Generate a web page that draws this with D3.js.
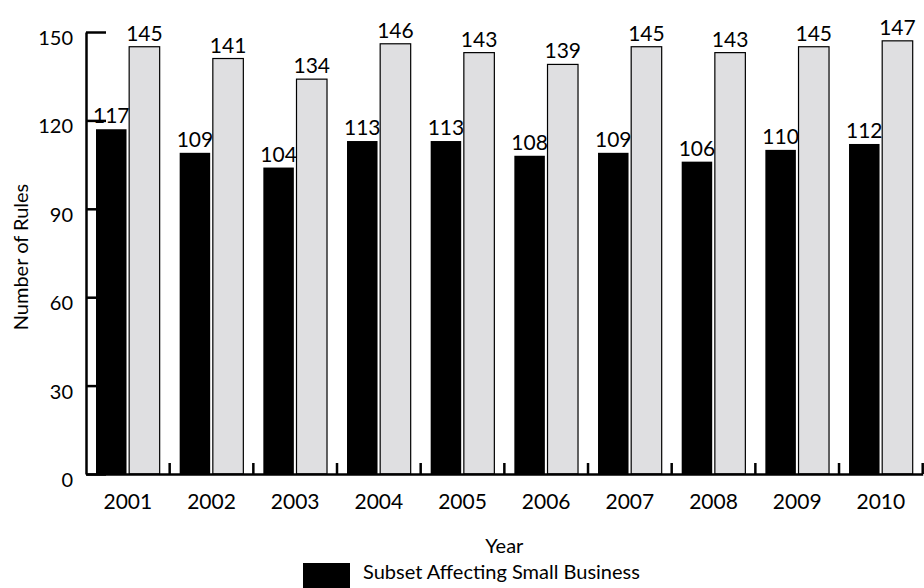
<!DOCTYPE html>
<html>
<head>
<meta charset="utf-8">
<script src="https://cdn.jsdelivr.net/npm/d3@7"></script>
<style>
  body { margin: 0; background: #fff; }
  svg text { font-family: Lato, "Open Sans", sans-serif; fill: #000; }
</style>
</head>
<body>
<svg id="chart" width="924" height="588"></svg>
<script>
// data
const years = ["2001", "2002", "2003", "2004", "2005", "2006", "2007", "2008", "2009", "2010"];
const smallBiz = [117, 109, 104, 113, 113, 108, 109, 106, 110, 112];
const allRules = [145, 141, 134, 146, 143, 139, 145, 143, 145, 147];
const yTicks = [0, 30, 60, 90, 120, 150];
const legendNames = ["Subset Affecting Small Business"];

const rows = years.map((y, i) => ({year: y, vals: [smallBiz[i], allRules[i]]}));

const svg = d3.select("#chart");
const plotL = 86, plotR = 922.7, plotT = 32, plotB = 474;

const x0 = d3.scaleBand().domain(years).range([plotL, plotR]).padding(0);
const x1 = d3.scaleBand().domain([0, 1])
  .range([10, x0.bandwidth() - 10]).paddingInner(0.08);
const y = d3.scaleLinear().domain([0, 150]).range([plotB, plotT]);

// y axis (ticks point inward)
const yAxis = svg.append("g")
  .attr("transform", `translate(${plotL},0)`)
  .call(d3.axisLeft(y).tickValues(yTicks).tickSizeInner(-20).tickSizeOuter(0).tickPadding(13));
yAxis.select(".domain").attr("stroke-width", 2.5);
yAxis.selectAll(".tick line").attr("stroke-width", 2.5);
yAxis.selectAll(".tick text")
  .style("font-size", "20px")
  .attr("dy", "0.62em");

// bars
const groups = svg.selectAll("g.year")
  .data(rows)
  .enter().append("g")
    .attr("class", "year")
    .attr("transform", d => `translate(${x0(d.year)},0)`);

groups.selectAll("rect")
  .data(d => d.vals.map((v, i) => ({i, v})))
  .enter().append("rect")
    .attr("x", d => x1(d.i))
    .attr("y", d => y(d.v))
    .attr("width", x1.bandwidth())
    .attr("height", d => plotB - y(d.v))
    .attr("fill", d => d.i === 0 ? "#000" : "#dfdfe1")
    .attr("stroke", d => d.i === 0 ? "none" : "#000")
    .attr("stroke-width", 1.2);

groups.selectAll("text.value")
  .data(d => d.vals.map((v, i) => ({i, v})))
  .enter().append("text")
    .attr("class", "value")
    .attr("x", d => x1(d.i) + x1.bandwidth() / 2)
    .attr("y", d => y(d.v) - 6)
    .attr("text-anchor", "middle")
    .style("font-size", "21px")
    .text(d => d.v);

// x axis
const xAxis = svg.append("g")
  .attr("transform", `translate(0,${plotB})`)
  .call(d3.axisBottom(x0).tickSize(0).tickPadding(20));
xAxis.select(".domain").attr("stroke-width", 2.5);
xAxis.selectAll(".tick text").style("font-size", "21px");

// separators between year groups
svg.append("g").selectAll("line")
  .data(years)
  .enter().append("line")
    .attr("x1", d => x0(d) + x0.bandwidth())
    .attr("x2", d => x0(d) + x0.bandwidth())
    .attr("y1", plotB)
    .attr("y2", plotB - 11)
    .attr("stroke", "#000")
    .attr("stroke-width", 2.5);

// axis titles
svg.append("text")
  .attr("x", (plotL + plotR) / 2)
  .attr("y", 553)
  .attr("text-anchor", "middle")
  .style("font-size", "20px")
  .text("Year");

svg.append("text")
  .attr("transform", `translate(28,${(plotT + plotB) / 2 + 4}) rotate(-90)`)
  .attr("text-anchor", "middle")
  .style("font-size", "20px")
  .text("Number of Rules");

// legend (only the first row is inside the picture)
const legend = svg.append("g").attr("transform", "translate(303,563)");
legendNames.forEach((name, i) => {
  const row = legend.append("g").attr("transform", `translate(0,${i * 56})`);
  row.append("rect")
    .attr("width", 47).attr("height", 47)
    .attr("fill", "#000");
  row.append("text")
    .attr("x", 60).attr("y", 16)
    .style("font-size", "20px")
    .text(name);
});
</script>
</body>
</html>
